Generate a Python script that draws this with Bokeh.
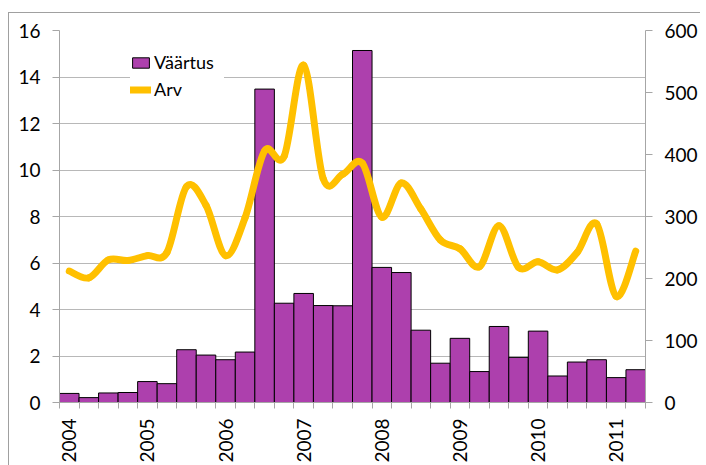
import math
from bokeh.plotting import figure
from bokeh.models import Range1d, LinearAxis, FixedTicker, Legend, LegendItem
from bokeh.embed import file_html
from bokeh.resources import INLINE

# ---- data (quarterly, 2004 Q1 .. 2011 Q2) ----
years = ["2004", "2005", "2006", "2007", "2008", "2009", "2010", "2011"]
vaartus = [0.39, 0.21, 0.41, 0.43, 0.90, 0.81, 2.27, 2.04, 1.84, 2.17,
           13.48, 4.27, 4.69, 4.17, 4.16, 15.14, 5.81, 5.59, 3.11, 1.69,
           2.76, 1.33, 3.27, 1.94, 3.07, 1.14, 1.74, 1.84, 1.07, 1.41]
arv = [212, 201, 230, 229, 237, 242, 348, 318, 237, 298,
       406, 397, 544, 361, 368, 386, 299, 354, 312, 262,
       248, 219, 285, 218, 227, 214, 242, 288, 171, 244]
left_ticks = [0, 2, 4, 6, 8, 10, 12, 14, 16]
right_ticks = [0, 100, 200, 300, 400, 500, 600]

n = len(vaartus)
xs = list(range(n))

FONT = "Lato"
AX = "#A6A6A6"
GRID = "#B8B8B8"
BAR = "#AD40AD"
LINE = "#FFC000"

p = figure(frame_width=586, frame_height=372,
           x_range=Range1d(-0.5, n - 0.5), y_range=Range1d(0, 16),
           output_backend="svg", toolbar_location=None,
           min_border_left=50, min_border_right=55,
           min_border_top=17, min_border_bottom=55)
p.styles = {"border-top": "1px solid #A0A0A0",
            "border-left": "1px solid #A0A0A0",
            "margin-top": "12px",
            "margin-left": "8px"}
p.outline_line_color = None
p.background_fill_color = "white"

p.extra_y_ranges = {"right": Range1d(0, 600)}

# bars
bars = p.vbar(x=xs, top=vaartus, width=1.0, fill_color=BAR,
              line_color="black", line_width=1)

# smoothed line (Catmull-Rom bezier segments computed from the data)
x0, y0, x1, y1, cx0, cy0, cx1, cy1 = [], [], [], [], [], [], [], []
for i in range(n - 1):
    im = max(i - 1, 0)
    ip2 = min(i + 2, n - 1)
    x0.append(xs[i]); y0.append(arv[i])
    x1.append(xs[i + 1]); y1.append(arv[i + 1])
    cx0.append(xs[i] + (xs[i + 1] - xs[im]) / 6)
    cy0.append(arv[i] + (arv[i + 1] - arv[im]) / 6)
    cx1.append(xs[i + 1] - (xs[ip2] - xs[i]) / 6)
    cy1.append(arv[i + 1] - (arv[ip2] - arv[i]) / 6)
line = p.bezier(x0=x0, y0=y0, x1=x1, y1=y1, cx0=cx0, cy0=cy0, cx1=cx1, cy1=cy1,
                y_range_name="right", line_color=LINE, line_width=7,
                line_cap="round", line_join="round")

# x axis: minor ticks at bar boundaries, year labels every 4th bar
xax = p.xaxis[0]
xax.ticker = FixedTicker(ticks=[i * 4 for i in range(len(years))],
                         minor_ticks=[i - 0.5 for i in range(n + 1)])
xax.major_label_overrides = {i * 4: y for i, y in enumerate(years)}
xax.major_label_orientation = math.pi / 2
xax.major_tick_line_color = None
xax.major_tick_out = 6
xax.major_tick_in = 0
xax.minor_tick_line_color = AX
xax.minor_tick_out = 6
xax.minor_tick_in = 0
xax.axis_line_color = AX
xax.major_label_standoff = 10
xax.major_label_text_font = FONT
xax.major_label_text_font_size = "19px"
xax.major_label_text_color = "black"

# left axis
yax = p.yaxis[0]
yax.ticker = FixedTicker(ticks=left_ticks)
yax.axis_line_color = AX
yax.major_tick_line_color = AX
yax.major_tick_out = 7
yax.major_tick_in = 0
yax.minor_tick_line_color = None
yax.major_label_standoff = 12
yax.major_label_text_font = FONT
yax.major_label_text_font_size = "19px"
yax.major_label_text_color = "black"

# right axis
rax = LinearAxis(y_range_name="right", ticker=FixedTicker(ticks=right_ticks))
rax.axis_line_color = AX
rax.major_tick_line_color = AX
rax.major_tick_out = 7
rax.major_tick_in = 0
rax.minor_tick_line_color = None
rax.major_label_standoff = 12
rax.major_label_text_font = FONT
rax.major_label_text_font_size = "19px"
rax.major_label_text_color = "black"
p.add_layout(rax, "right")

p.xgrid.visible = False
p.ygrid.ticker = FixedTicker(ticks=left_ticks)
p.ygrid.grid_line_color = GRID
p.ygrid.grid_line_width = 1

legend = Legend(items=[LegendItem(label="Väärtus", renderers=[bars]),
                       LegendItem(label="Arv", renderers=[line])],
                location=(71, 302), orientation="vertical",
                glyph_width=21, glyph_height=13, label_height=13,
                spacing=5, padding=10,
                label_standoff=3, label_width=70,
                label_text_font=FONT, label_text_font_size="18px",
                label_text_color="black",
                border_line_color=None, background_fill_color="white",
                background_fill_alpha=1.0)
p.add_layout(legend, "center")

open("out.html", "w").write(file_html(p, INLINE))
